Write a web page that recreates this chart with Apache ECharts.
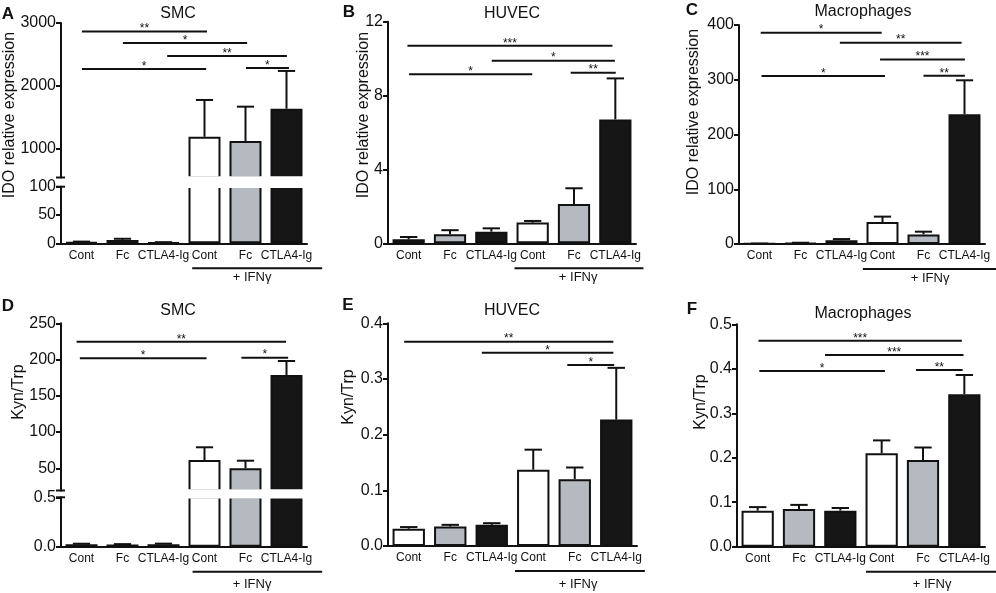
<!DOCTYPE html>
<html lang="en">
<head>
<meta charset="UTF-8">
<title>IDO expression and Kyn/Trp</title>
<script src="https://cdn.jsdelivr.net/npm/echarts@6/dist/echarts.min.js"></script>
<style>
    * {
        margin: 0;
        padding: 0;
    }

    html, body {
        width: 100%;
        height: 100%;
        overflow: hidden;
        background: #fff;
    }

    #chart {
        width: 996px;
        height: 593px;
    }
</style>
</head>
<body>
<div id="chart"></div>
<script>
    // six groups along every x axis
    let groups = ['Cont', 'Fc', 'CTLA4-Ig', 'Cont', 'Fc', 'CTLA4-Ig'];

    // A  IDO relative expression, SMC (broken axis)
    let idoSmcMean = [2, 6, 1.5, 1185, 1117, 1633];
    let idoSmcSem = [1, 2, 0.5, 587, 548, 602];
    let idoSmcTicksUp = [1000, 2000, 3000];
    let idoSmcTicksLow = [0, 50, 100];
    let idoSmcSig = [[0.01, 3.06, 2863, '**'], [1.01, 4.04, 2682, '*'], [2.09, 5.01, 2474, '**'],
        [0.01, 3.04, 2267, '*'], [4.01, 5.06, 2282, '*']];

    // B  IDO relative expression, HUVEC
    let idoHuvecMean = [0.22, 0.49, 0.63, 1.12, 2.13, 6.71];
    let idoHuvecSem = [0.12, 0.22, 0.18, 0.09, 0.85, 2.22];
    let idoHuvecTicks = [0, 4, 8, 12];
    let idoHuvecSig = [[-0.03, 4.93, 10.7, '***'], [2.01, 4.99, 9.89, '*'], [0.01, 2.99, 9.15, '*'],
        [3.92, 5.01, 9.24, '**']];

    // C  IDO relative expression, macrophages
    let idoMacMean = [0.5, 1.5, 7, 40, 17.5, 237];
    let idoMacSem = [0.3, 0.8, 2, 10, 5, 62];
    let idoMacTicks = [0, 100, 200, 300, 400];
    let idoMacSig = [[0.03, 2.98, 386, '*'], [1.96, 4.93, 367.7, '**'], [2.94, 5.01, 337, '***'],
        [0.05, 3.06, 306.8, '*'], [4.0, 5.01, 307.4, '**']];

    // D  Kyn/Trp, SMC (broken axis)
    let kynSmcMean = [0.025, 0.022, 0.026, 61.4, 50, 178.7];
    let kynSmcSem = [0.005, 0.004, 0.005, 17.6, 10.5, 19.3];
    let kynSmcTicksUp = [50, 100, 150, 200, 250];
    let kynSmcTicksLow = [0, 0.5];
    let kynSmcSig = [[-0.12, 4.99, 224.6, '**'], [-0.04, 3.05, 201.7, '*'], [3.9, 5.04, 202.6, '*']];

    // E  Kyn/Trp, HUVEC
    let kynHuvecMean = [0.031, 0.035, 0.038, 0.137, 0.12, 0.227];
    let kynHuvecSem = [0.003, 0.003, 0.003, 0.036, 0.021, 0.093];
    let kynHuvecTicks = [0, 0.1, 0.2, 0.3, 0.4];
    let kynHuvecSig = [[-0.11, 4.93, 0.367, '**'], [1.76, 4.93, 0.347, '*'], [3.82, 4.95, 0.325, '*']];

    // F  Kyn/Trp, macrophages
    let kynMacMean = [0.081, 0.085, 0.081, 0.21, 0.195, 0.343];
    let kynMacSem = [0.008, 0.009, 0.006, 0.029, 0.028, 0.043];
    let kynMacTicks = [0, 0.1, 0.2, 0.3, 0.4, 0.5];
    let kynMacSig = [[0.02, 4.94, 0.463, '***'], [1.63, 4.98, 0.431, '***'], [0.04, 3.08, 0.395, '*'],
        [3.83, 4.96, 0.397, '**']];

    const FONT = '"Liberation Sans", Arial, Helvetica, sans-serif';
    const INK = '#111';
    let barColors = ['#ffffff', '#b4bac0', '#161616', '#ffffff', '#b4bac0', '#161616'];

    // layout of the six panels (pixels); parts = stacked grids of a broken axis
    let panels = [
        {letter: 'A', title: 'SMC', yName: 'IDO relative expression', mean: idoSmcMean, sem: idoSmcSem, sig: idoSmcSig,
            left: 61, width: 246, letterPos: [8, 14], titlePos: [178, 14], yNamePos: [10, 115],
            bracket: [2.70, 5.87, 4.16], textOff: 34,
            parts: [{top: 23, bottom: 177.5, min: 535, max: 3000, ticks: idoSmcTicksUp, dec: 0},
                {top: 186.7, bottom: 243.3, min: 0, max: 100, ticks: idoSmcTicksLow, dec: 0}]},
        {letter: 'B', title: 'HUVEC', yName: 'IDO relative expression', mean: idoHuvecMean, sem: idoHuvecSem, sig: idoHuvecSig,
            left: 388, width: 248, letterPos: [349, 12], titlePos: [512, 14], yNamePos: [364, 115],
            bracket: [2.56, 5.68, 4.1], textOff: 34,
            parts: [{top: 21.7, bottom: 243.3, min: 0, max: 12, ticks: idoHuvecTicks, dec: 0}]},
        {letter: 'C', title: 'Macrophages', yName: 'IDO relative expression', mean: idoMacMean, sem: idoMacSem, sig: idoMacSig,
            left: 739, width: 246, letterPos: [692, 10], titlePos: [863, 12], yNamePos: [694, 112],
            bracket: [2.52, 5.8, 4.16], textOff: 34,
            parts: [{top: 25, bottom: 244, min: 0, max: 400, ticks: idoMacTicks, dec: 0}]},
        {letter: 'D', title: 'SMC', yName: 'Kyn/Trp', mean: kynSmcMean, sem: kynSmcSem, sig: kynSmcSig,
            left: 61, width: 246, letterPos: [8, 306], titlePos: [178, 311], yNamePos: [19, 392],
            bracket: [2.71, 5.87, 4.16], textOff: 38,
            parts: [{top: 323.3, bottom: 490.5, min: 19.4, max: 250, ticks: kynSmcTicksUp, dec: 0},
                {top: 497.3, bottom: 546.7, min: 0, max: 0.5, ticks: kynSmcTicksLow, dec: 1}]},
        {letter: 'E', title: 'HUVEC', yName: 'Kyn/Trp', mean: kynHuvecMean, sem: kynHuvecSem, sig: kynHuvecSig,
            left: 388, width: 249, letterPos: [348, 305], titlePos: [512, 311], yNamePos: [349, 397],
            bracket: [2.56, 5.69, 4.08], textOff: 38,
            parts: [{top: 323.3, bottom: 546, min: 0, max: 0.4, ticks: kynHuvecTicks, dec: 1}]},
        {letter: 'F', title: 'Macrophages', yName: 'Kyn/Trp', mean: kynMacMean, sem: kynMacSem, sig: kynMacSig,
            left: 737, width: 248, letterPos: [692, 309], titlePos: [863, 314], yNamePos: [701, 402],
            bracket: [2.62, 5.77, 4.22], textOff: 38,
            parts: [{top: 324.3, bottom: 546.7, min: 0, max: 0.5, ticks: kynMacTicks, dec: 1}]}
    ];

    function renderErr(params, api) {
        let x = api.value(0);
        let p0 = api.coord([x, api.value(1)]);
        let p1 = api.coord([x, api.value(2)]);
        let half = api.size([1, 0])[0] * 0.21;
        let st = {stroke: INK, lineWidth: 2};
        return {
            type: 'group', children: [
                {type: 'line', shape: {x1: p0[0], y1: p0[1], x2: p1[0], y2: p1[1]}, style: st},
                {type: 'line', shape: {x1: p1[0] - half, y1: p1[1], x2: p1[0] + half, y2: p1[1]}, style: st}
            ]
        };
    }

    function sigRenderer(sig) {
        return function (params, api) {
            let base = api.coord([0, api.value(2)]);
            let band = api.size([1, 0])[0];
            let xa = base[0] + api.value(0) * band;
            let xb = base[0] + api.value(1) * band;
            let y = base[1];
            return {
                type: 'group', children: [
                    {type: 'line', shape: {x1: xa, y1: y, x2: xb, y2: y}, style: {stroke: INK, lineWidth: 2}},
                    {type: 'text', x: (xa + xb) / 2, y: y + 3.5, style: {
                        text: sig[params.dataIndex][3], fontSize: 12, fontFamily: FONT, fill: INK,
                        align: 'center', verticalAlign: 'bottom'}}
                ]
            };
        };
    }

    let grid = [], xAxis = [], yAxis = [], series = [], graphic = [];

    panels.forEach(p => {
        p.parts.forEach((part, k) => {
            let g = grid.length;
            let isBottom = k === p.parts.length - 1;
            grid.push({left: p.left, top: part.top, width: p.width, height: part.bottom - part.top});
            xAxis.push({
                gridIndex: g, type: 'category', data: groups, show: isBottom,
                axisLine: {onZero: false, lineStyle: {color: INK, width: 2}},
                axisTick: {alignWithLabel: true, length: 4, lineStyle: {color: INK, width: 1.5}},
                axisLabel: {interval: 0, fontSize: 12, color: INK, margin: 6, fontFamily: FONT}
            });
            yAxis.push({
                gridIndex: g, type: 'value', min: part.min, max: part.max,
                splitLine: {show: false},
                axisLine: {show: true, lineStyle: {color: INK, width: 2}},
                axisTick: {show: true, length: 5, customValues: part.ticks, lineStyle: {color: INK, width: 2}},
                axisLabel: {customValues: part.ticks, fontSize: 16, color: INK, margin: 5, fontFamily: FONT,
                    formatter: v => Number(v).toFixed(part.dec)}
            });
            series.push({
                type: 'bar', xAxisIndex: g, yAxisIndex: g, barWidth: '78%', z: 3,
                data: p.mean.map((v, i) => ({value: v, itemStyle: {color: barColors[i]}})),
                itemStyle: {borderColor: INK, borderWidth: 2}
            });
            let errData = [];
            p.mean.forEach((m, i) => {
                if (m >= part.min && m <= part.max) errData.push([i, m, m + p.sem[i]]);
            });
            series.push({
                type: 'custom', xAxisIndex: g, yAxisIndex: g, z: 2,
                encode: {x: 0, y: [1, 2]}, data: errData, renderItem: renderErr
            });
            if (k === 0) {
                series.push({
                    type: 'custom', xAxisIndex: g, yAxisIndex: g, z: 4,
                    encode: {x: [0, 1], y: 2}, data: p.sig.map(s => [s[0], s[1], s[2]]),
                    renderItem: sigRenderer(p.sig)
                });
            }
        });

        // white gap across a broken axis, with small caps on the axis ends
        if (p.parts.length > 1) {
            let up = p.parts[0], low = p.parts[1];
            graphic.push({type: 'rect', z: 100, shape: {x: p.left + 2, y: up.bottom - 1.2, width: p.width + 6, height: low.top - up.bottom + 2.4},
                style: {fill: '#fff'}});
            [up.bottom, low.top].forEach(yy => {
                graphic.push({type: 'line', z: 101, shape: {x1: p.left - 5, y1: yy, x2: p.left + 4, y2: yy},
                    style: {stroke: INK, lineWidth: 2}});
            });
        }

        // + IFNγ bracket under the last three groups
        let band = p.width / groups.length;
        let axisY = p.parts[p.parts.length - 1].bottom;
        let bx = c => p.left + (c + 0.5) * band;
        graphic.push({type: 'line', shape: {x1: bx(p.bracket[0]), y1: axisY + 25, x2: bx(p.bracket[1]), y2: axisY + 25},
            style: {stroke: INK, lineWidth: 2}});
        graphic.push({type: 'text', x: bx(p.bracket[2]), y: axisY + p.textOff,
            style: {text: '+ IFNγ', fontSize: 13, fontFamily: FONT, fill: INK, align: 'center', verticalAlign: 'middle'}});

        graphic.push({type: 'text', x: p.letterPos[0], y: p.letterPos[1],
            style: {text: p.letter, fontSize: 17, fontWeight: 'bold', fontFamily: FONT, fill: INK, align: 'center', verticalAlign: 'middle'}});
        graphic.push({type: 'text', x: p.titlePos[0], y: p.titlePos[1],
            style: {text: p.title, fontSize: 16, fontFamily: FONT, fill: INK, align: 'center', verticalAlign: 'middle'}});
        graphic.push({type: 'text', x: p.yNamePos[0], y: p.yNamePos[1], rotation: Math.PI / 2,
            style: {text: p.yName, fontSize: 16, fontFamily: FONT, fill: INK, align: 'center', verticalAlign: 'middle'}});
    });

    let chart = echarts.init(document.getElementById('chart'));
    chart.setOption({
        animation: false,
        backgroundColor: '#fff',
        textStyle: {fontFamily: FONT},
        grid,
        xAxis,
        yAxis,
        series,
        graphic
    });
</script>
</body>
</html>
